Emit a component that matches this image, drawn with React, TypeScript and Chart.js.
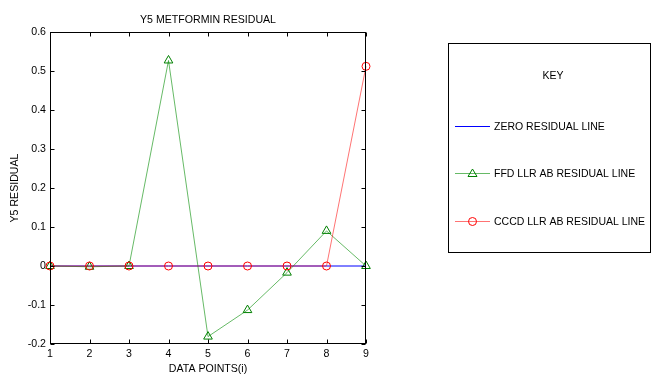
import React, { useEffect, useRef } from "react";
import { Chart, registerables } from "chart.js";

Chart.register(...registerables);

const xPoints = [1, 2, 3, 4, 5, 6, 7, 8, 9];
const zeroResidual = [0, 0, 0, 0, 0, 0, 0, 0, 0];
const ffdResidual = [0, -0.002, 0, 0.527, -0.181, -0.113, -0.017, 0.09, 0];
const cccdResidual = [0, 0, 0, 0, 0, 0, 0, 0, 0.512];
const yTicks = [-0.2, -0.1, 0, 0.1, 0.2, 0.3, 0.4, 0.5, 0.6];
const legendLabels = ["ZERO RESIDUAL LINE", "FFD LLR AB RESIDUAL LINE", "CCCD LLR AB RESIDUAL LINE"];
const titleText = "Y5 METFORMIN RESIDUAL";
const xTitle = "DATA POINTS(i)";
const yTitle = "Y5 RESIDUAL";
const keyTitle = "KEY";

const FONT = "'Liberation Sans', Arial, sans-serif";

const decorPlugin = {
  id: "decor",
  afterDraw(chart: any) {
    const ctx = chart.ctx;
    const a = chart.chartArea;
    const xs = chart.scales.x;
    const ys = chart.scales.y;
    ctx.save();
    ctx.strokeStyle = "#000";
    ctx.lineWidth = 1;
    const L = Math.round(a.left) + 0.5;
    const R = Math.round(a.right) - 0.5;
    const T = Math.round(a.top) + 0.5;
    const B = Math.round(a.bottom) - 0.5;
    ctx.strokeRect(L, T, R - L, B - T);
    ctx.beginPath();
    xPoints.forEach((v) => {
      const px = Math.round(xs.getPixelForValue(v)) + 0.5;
      ctx.moveTo(px, B);
      ctx.lineTo(px, B - 4);
      ctx.moveTo(px, T);
      ctx.lineTo(px, T + 4);
    });
    yTicks.forEach((v) => {
      const py = Math.round(ys.getPixelForValue(v)) + 0.5;
      ctx.moveTo(L, py);
      ctx.lineTo(L + 4, py);
      ctx.moveTo(R, py);
      ctx.lineTo(R - 4, py);
    });
    ctx.stroke();

    ctx.fillStyle = "#000";
    ctx.font = "10.6px " + FONT;
    ctx.textAlign = "center";
    ctx.textBaseline = "middle";
    ctx.fillText(titleText, (a.left + a.right) / 2, 20);
    ctx.fillText(xTitle, (a.left + a.right) / 2, 369);
    ctx.save();
    ctx.translate(15, (a.top + a.bottom) / 2);
    ctx.rotate(-Math.PI / 2);
    ctx.fillText(yTitle, 0, 0);
    ctx.restore();

    // legend box
    ctx.font = "10.5px " + FONT;
    ctx.strokeStyle = "#000";
    ctx.strokeRect(448.5, 43.5, 202, 209);
    ctx.fillText(keyTitle, 553, 76);
    const rows = [126, 173, 221];
    const lineColors = ["#0000ff", "rgba(0,140,0,0.6)", "rgba(255,0,0,0.55)"];
    rows.forEach((y, i) => {
      ctx.strokeStyle = lineColors[i];
      ctx.beginPath();
      ctx.moveTo(455, y + 0.5);
      ctx.lineTo(490, y + 0.5);
      ctx.stroke();
      if (i === 1) {
        ctx.strokeStyle = "#008000";
        ctx.beginPath();
        ctx.moveTo(472.5, y - 4);
        ctx.lineTo(477, y + 3.5);
        ctx.lineTo(468, y + 3.5);
        ctx.closePath();
        ctx.stroke();
      } else if (i === 2) {
        ctx.strokeStyle = "#ff0000";
        ctx.beginPath();
        ctx.arc(472.5, y + 0.5, 4, 0, Math.PI * 2);
        ctx.stroke();
      }
      ctx.fillStyle = "#000";
      ctx.textAlign = "left";
      ctx.fillText(legendLabels[i], 494, y + 1);
    });
    ctx.restore();
  },
};

export default function App() {
  const ref = useRef<HTMLCanvasElement>(null);
  useEffect(() => {
    if (!ref.current) return;
    const chart = new Chart(ref.current, {
      type: "line",
      data: {
        datasets: [
          {
            label: legendLabels[0],
            data: xPoints.map((x, i) => ({ x, y: zeroResidual[i] })),
            borderColor: "#0000ff",
            borderWidth: 1,
            pointRadius: 0,
            order: 2,
            clip: false as any,
          },
          {
            label: legendLabels[1],
            data: xPoints.map((x, i) => ({ x, y: ffdResidual[i] })),
            borderColor: "rgba(0,140,0,0.6)",
            borderWidth: 1,
            pointStyle: "triangle",
            pointRadius: 5,
            pointBorderColor: "#008000",
            pointBackgroundColor: "rgba(0,0,0,0)",
            pointBorderWidth: 1,
            order: 1,
            clip: false as any,
          },
          {
            label: legendLabels[2],
            data: xPoints.map((x, i) => ({ x, y: cccdResidual[i] })),
            borderColor: "rgba(255,0,0,0.55)",
            borderWidth: 1,
            pointStyle: "circle",
            pointRadius: 4,
            pointBorderColor: "#ff0000",
            pointBackgroundColor: "rgba(0,0,0,0)",
            pointBorderWidth: 1,
            order: 0,
            clip: false as any,
          },
        ],
      },
      options: {
        responsive: false,
        animation: false,
        devicePixelRatio: 1,
        layout: { padding: { left: 0, top: 32, right: 285, bottom: 0 } },
        plugins: { legend: { display: false }, tooltip: { enabled: false }, title: { display: false } },
        scales: {
          x: {
            type: "linear",
            min: 1,
            max: 9,
            grid: { display: false, drawTicks: false, tickLength: 0 },
            border: { display: false },
            afterFit: (s: any) => {
              s.height = 32;
            },
            afterBuildTicks: (s: any) => {
              s.ticks = xPoints.map((v) => ({ value: v }));
            },
            ticks: {
              padding: 4,
              color: "#000",
              font: { family: FONT, size: 10.6 },
              maxRotation: 0,
              callback: (v: any) => String(v),
            },
          },
          y: {
            type: "linear",
            min: -0.2,
            max: 0.6,
            grid: { display: false, drawTicks: false, tickLength: 0 },
            border: { display: false },
            afterFit: (s: any) => {
              s.width = 50;
            },
            afterBuildTicks: (s: any) => {
              s.ticks = yTicks.map((v) => ({ value: v }));
            },
            ticks: {
              padding: 4,
              color: "#000",
              font: { family: FONT, size: 10.6 },
              callback: (v: any) => String(Math.round(Number(v) * 10) / 10),
            },
          },
        },
      },
      plugins: [decorPlugin],
    });
    return () => chart.destroy();
  }, []);
  return (
    <div style={{ position: "fixed", left: 0, top: 0, width: 651, height: 376, background: "#fff" }}>
      <canvas ref={ref} width={651} height={376} style={{ display: "block" }} />
    </div>
  );
}
